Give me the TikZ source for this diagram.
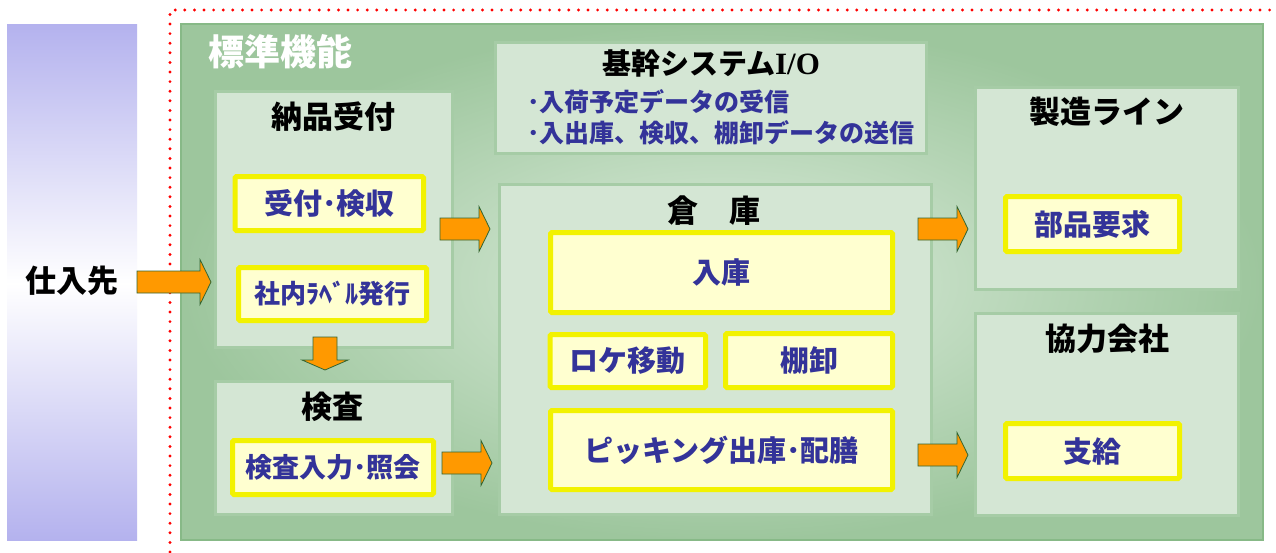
\documentclass[tikz,border=0pt]{standalone}
\usepackage{fontspec}
\setmainfont{Noto Sans CJK JP}
\newfontfamily\latinserif{Liberation Serif}
\usetikzlibrary{calc}
\definecolor{purp}{RGB}{180,178,238}
\definecolor{mainin}{RGB}{220,236,220}
\definecolor{mainmid}{RGB}{196,222,196}
\definecolor{mainout}{RGB}{157,198,157}
\definecolor{mainborder}{RGB}{135,185,135}
\definecolor{panelfill}{RGB}{212,230,212}
\definecolor{panelborder}{RGB}{166,204,166}
\definecolor{yborder}{RGB}{242,242,0}
\definecolor{yfill}{RGB}{255,255,208}
\definecolor{itemblue}{RGB}{51,51,153}
\definecolor{arroworange}{RGB}{255,153,0}
\definecolor{arrowedge}{RGB}{51,102,51}
\newcommand\boxat[7]{\node[#2, minimum width={(#5-#3)}, minimum height={(#6-#4)}] (#1) at ({(#3+#5)/2},{(#4+#6)/2}) {#7};}
\newcommand\hfat[2]{\draw[fatarrow] ($(#1)+(0,-11)$) -- ($(#2)+(-11,-11)$) -- ($(#2)+(-11,-22.5)$) -- (#2) -- ($(#2)+(-11,22.5)$) -- ($(#2)+(-11,11)$) -- ($(#1)+(0,11)$) -- cycle;}
\newcommand\vfat[2]{\draw[fatarrow] ($(#1)+(-12,0)$) -- ($(#2)+(-12,-10)$) -- ($(#2)+(-23,-10)$) -- (#2) -- ($(#2)+(23,-10)$) -- ($(#2)+(12,-10)$) -- ($(#1)+(12,0)$) -- cycle;}
\begin{document}
\begin{tikzpicture}[x=1pt,y=-1pt,
  panel/.style={draw=panelborder, line width=3pt, fill=panelfill, inner sep=0pt},
  ybox/.style={draw=yborder, line width=5pt, fill=yfill, rounded corners=1.5pt, inner sep=0pt,
    font=\bfseries\fontsize{29}{33}\selectfont, text=itemblue},
  ttl/.style={font=\bfseries\fontsize{31}{35}\selectfont, text=black, inner sep=0pt},
  fatarrow/.style={fill=arroworange, draw=arrowedge, line width=0.8pt, line join=miter},
  reddots/.style={draw=red, line width=3.2pt, line cap=round, dash pattern=on 0pt off 9.6pt}]
\useasboundingbox[fill=white] (0,0) rectangle (1276,552);
% supplier column
\shade[top color=purp, bottom color=white] (7,24) rectangle (137,284);
\shade[top color=white, bottom color=purp] (7,283) rectangle (137,540);
\node[ttl] (shiire) at (72,281) {仕入先};
% dotted boundary
\draw[reddots] (170,552) -- (170,10) -- (1276,10);
% main frame
\boxat{std}{shade, shading=radial, inner color=mainin, outer color=mainout, draw=mainborder, line width=2pt}{181}{24}{1263}{540}{}
\node[font=\bfseries\fontsize{36}{40}\selectfont, text=white, inner sep=0pt] (stdttl) at (280,52) {標準機能};
% 納品受付
\boxat{nohin}{panel}{215}{91}{452}{347}{}
\node[ttl] (nohinttl) at (333,117) {納品受付};
\boxat{uke}{ybox}{235}{176.5}{423.5}{230.5}{受付･検収}
\boxat{label}{ybox, font=\bfseries\fontsize{26}{30}\selectfont}{238.5}{267.5}{426.5}{320.5}{社内ﾗﾍﾞﾙ発行}
% 検査
\boxat{kensa}{panel}{215}{381}{452}{514}{}
\node[ttl] (kensattl) at (332,407) {検査};
\boxat{kin}{ybox, font=\bfseries\fontsize{27}{30}\selectfont}{232.5}{440.5}{433.5}{494.5}{検査入力･照会}
% 基幹システム
\boxat{kikan}{panel}{495}{42}{926}{153}{}
\node[ttl, font=\bfseries\fontsize{29}{33}\selectfont] (kikanttl) at (711,63) {基幹システム{\latinserif\fontsize{31}{33}\selectfont I/O}};
\node[inner sep=0pt, anchor=west, align=left, text=itemblue, font=\bfseries\fontsize{25}{31}\selectfont] (kikanlist) at (527,117) {･入荷予定データの受信\\･入出庫、検収、棚卸データの送信};
% 倉庫
\boxat{soko}{panel}{499}{184}{931}{514}{}
\node[ttl] (sokottl) at (714,211) {倉　庫};
\boxat{nyuko}{ybox}{550.5}{232.5}{892.5}{312.5}{入庫}
\boxat{loke}{ybox}{550}{334.5}{705.5}{387.5}{ロケ移動}
\boxat{tana}{ybox}{725.5}{333.5}{892.5}{387.5}{棚卸}
\boxat{pick}{ybox}{550.5}{410.5}{892.5}{489.5}{ピッキング出庫･配膳}
% 製造ライン
\boxat{seizo}{panel}{975}{87}{1238}{289}{}
\node[ttl] (seizottl) at (1107,112) {製造ライン};
\boxat{buhin}{ybox}{1005.5}{196.5}{1179.5}{251.5}{部品要求}
% 協力会社
\boxat{kyoryoku}{panel}{975}{313}{1238}{515}{}
\node[ttl] (kyoryokuttl) at (1107,339) {協力会社};
\boxat{shikyu}{ybox}{1005.5}{423.5}{1179.5}{478.5}{支給}
% arrows
\coordinate (a1s) at (137,282); \coordinate (a1e) at (211,282);
\coordinate (a2s) at (440,229); \coordinate (a2e) at (490,229);
\coordinate (a3s) at (442,463); \coordinate (a3e) at (492,463);
\coordinate (a4s) at (918,229); \coordinate (a4e) at (968,229);
\coordinate (a5s) at (918,455); \coordinate (a5e) at (968,455);
\coordinate (a6s) at (325,337); \coordinate (a6e) at (325,370);
\hfat{a1s}{a1e}
\hfat{a2s}{a2e}
\hfat{a3s}{a3e}
\hfat{a4s}{a4e}
\hfat{a5s}{a5e}
\vfat{a6s}{a6e}
\end{tikzpicture}
\end{document}
